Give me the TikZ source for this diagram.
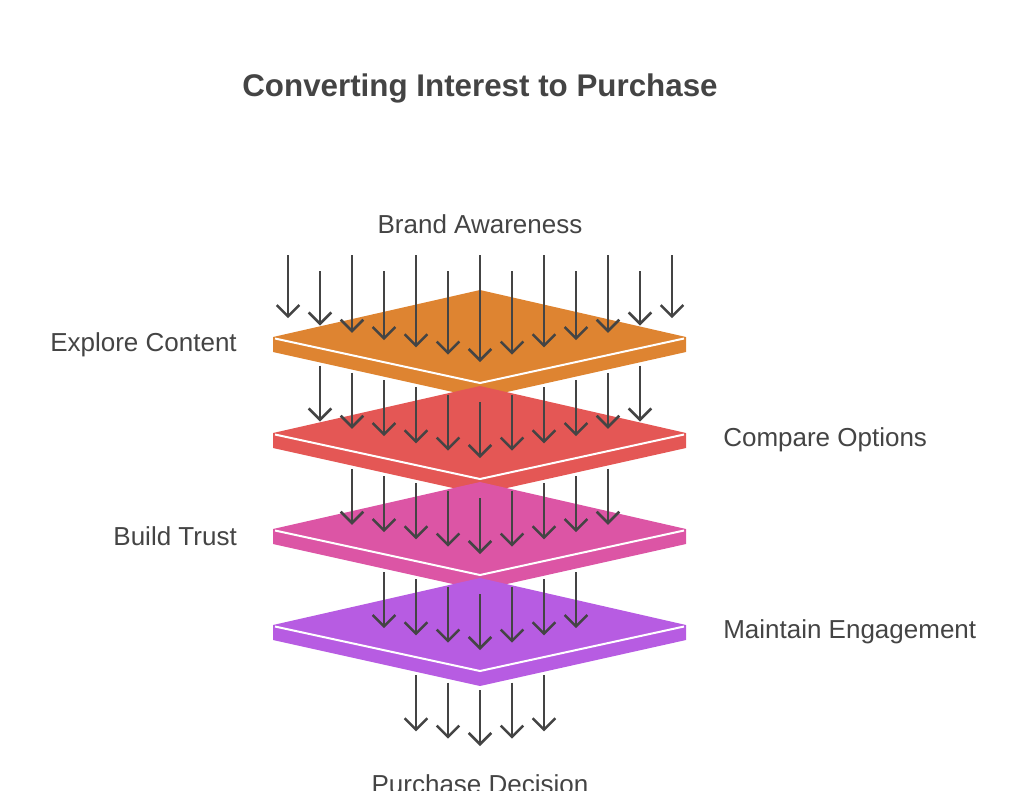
\documentclass[tikz,border=0pt]{standalone}
\usepackage{fontspec}
\setmainfont{Liberation Sans}
\usetikzlibrary{arrows.meta}
\definecolor{txt}{HTML}{444444}
\definecolor{cA}{HTML}{DE8431}
\definecolor{cB}{HTML}{E45755}
\definecolor{cC}{HTML}{DC55A5}
\definecolor{cD}{HTML}{B75CE2}
\tikzset{
 arr/.style={draw=txt,line width=1.9pt,-{Straight Barb[length=8.5pt,width=17pt,line width=1.9pt]}},
 lbl/.style={text=txt,font=\fontsize{19.5}{22}\selectfont,inner sep=0pt},
}
\begin{document}
\begin{tikzpicture}[x=0.75pt,y=-0.75pt]
\useasboundingbox (0,0) rectangle (1024,790);
\node[text=txt,font=\bfseries\fontsize{23.5}{26}\selectfont] (title) at (480,88) {Converting Interest to Purchase};
\node[lbl] (brand) at (480,224) {Brand Awareness};
\node[lbl,anchor=east] (explore) at (237,345) {Explore Content};
\node[lbl,anchor=west] (compare) at (723,440) {Compare Options};
\node[lbl,anchor=east] (trust) at (237,536) {Build Trust};
\node[lbl,anchor=west] (maintain) at (723,632) {Maintain Engagement};
\node[lbl] (purchase) at (480,784) {Purchase Decision};
\foreach \k/\c/\n in {0/cA/6,1/cB/5,2/cC/4,3/cD/3,4/none/2}{
  \pgfmathsetmacro{\o}{96*\k}
  \ifnum\k<4
  \begin{scope}[yshift={-0.75pt*\o}]
    \coordinate (L\k) at (273,337);
    \coordinate (T\k) at (480,290);
    \coordinate (R\k) at (686,337);
    \coordinate (B\k) at (480,383);
    \fill[\c] (L\k) -- (T\k) -- (R\k) -- ++(0,15) -- (480,398) -- (273,352) -- cycle;
    \draw[white,line width=1.5pt] (275,338.5) -- (B\k) -- (684,338.5);
  \end{scope}
  \fi
  \foreach \i in {-\n,...,\n}{
    \pgfmathsetmacro{\xx}{480+32*\i}
    \ifnum\k=0
      \pgfmathsetmacro{\ys}{isodd(abs(\i))?271:255}
    \else
      \pgfmathsetmacro{\ys}{402+\o-96-7.3*abs(\i)}
    \fi
    \pgfmathsetmacro{\ye}{362+\o-7.3*abs(\i)}
    \draw[arr] (\xx,\ys) -- (\xx,\ye);
  }
}
\end{tikzpicture}
\end{document}
